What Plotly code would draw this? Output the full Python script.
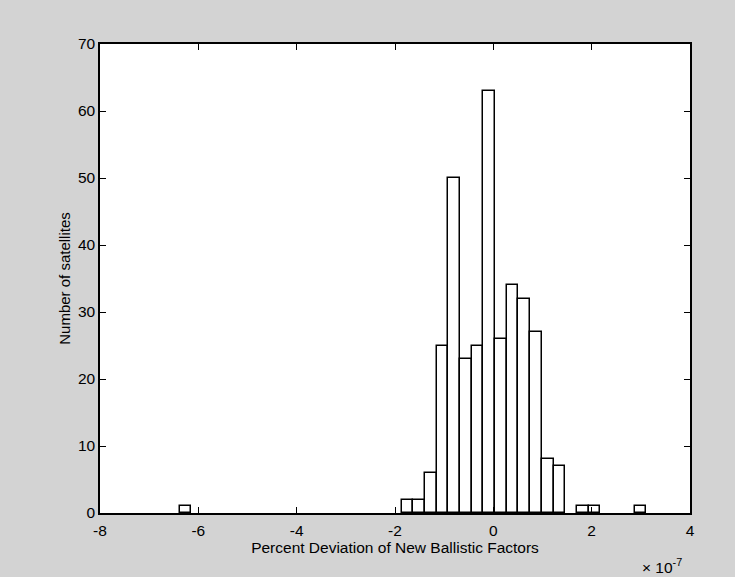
import plotly.graph_objects as go

# Histogram of percent deviation (units of 1e-7), 40 equal-width bins
bin_width = 0.2377
bin_centers = [-6.263, -1.747, -1.509, -1.272, -1.034, -0.797, -0.559, -0.321,
               -0.083, 0.154, 0.392, 0.630, 0.867, 1.105, 1.343, 1.818, 2.056, 2.991]
counts = [1, 2, 2, 6, 25, 50, 23, 25, 63, 26, 34, 32, 27, 8, 7, 1, 1, 1]

x_tickvals = [-8, -6, -4, -2, 0, 2, 4]
x_ticktext = ["-8", "-6", "-4", "-2", "0", "2", "4"]
y_tickvals = [0, 10, 20, 30, 40, 50, 60, 70]
y_ticktext = ["0", "10", "20", "30", "40", "50", "60", "70"]

FONT = "Liberation Sans, Arial, sans-serif"

fig = go.Figure(
    go.Bar(
        x=bin_centers,
        y=counts,
        width=[bin_width] * len(counts),
        marker=dict(color="white", line=dict(color="black", width=1.5)),
        hoverinfo="x+y",
    )
)

axis_common = dict(
    showline=True,
    linecolor="black",
    linewidth=1.5,
    mirror="ticks",
    ticks="inside",
    ticklen=6,
    tickwidth=1.2,
    tickcolor="black",
    showgrid=False,
    zeroline=False,
    tickfont=dict(family=FONT, size=15.5, color="black"),
)

fig.update_layout(
    width=735,
    height=577,
    margin=dict(l=100, r=45, t=44, b=64),
    paper_bgcolor="#d3d3d3",
    plot_bgcolor="white",
    showlegend=False,
    bargap=0,
    xaxis=dict(
        range=[-8, 4],
        tickvals=x_tickvals,
        ticktext=x_ticktext,
        ticklabelstandoff=3,
        title=dict(text="Percent Deviation of New Ballistic Factors",
                   font=dict(family=FONT, size=15.5, color="black"),
                   standoff=3),
        **axis_common,
    ),
    yaxis=dict(
        range=[0, 70],
        tickvals=y_tickvals,
        ticktext=y_ticktext,
        title=dict(text="Number of satellites",
                   font=dict(family=FONT, size=15, color="black"),
                   standoff=4),
        **axis_common,
    ),
    annotations=[
        dict(
            text="× 10<sup>-7</sup>",
            xref="paper", yref="paper",
            x=0.99, y=-0.113,
            xanchor="right", yanchor="middle",
            showarrow=False,
            font=dict(family=FONT, size=15.5, color="black"),
        )
    ],
)

fig.write_html("out.html")
